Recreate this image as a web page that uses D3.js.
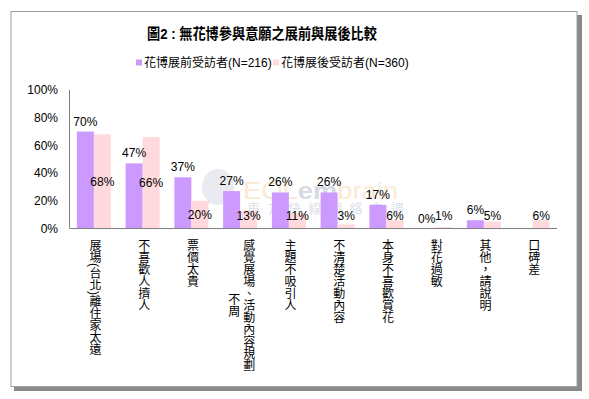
<!DOCTYPE html>
<html><head><meta charset="utf-8">
<script src="https://cdn.jsdelivr.net/npm/d3@7"></script>
<style>
body{margin:0;background:#fff;}
text{font-family:Arial,"Liberation Sans","Noto Sans CJK TC",sans-serif;}
</style></head>
<body><svg id="c" width="589" height="399"></svg>
<script>
const categories = ["展場(台北)離住家太遠","不喜歡人擠人","票價太貴","感覺展場、活動內容規劃|不周","主題不吸引人","不清楚活動內容","本身不喜歡賞花","對花過敏","其他，請說明","口碑差"];
const seriesNames = ["花博展前受訪者(N=216)","花博展後受訪者(N=360)"];
const before = [70,47,37,27,26,26,17,0,6,null];
const after  = [68,66,20,13,11,3,6,1,5,6];
const yTicks = [0,20,40,60,80,100];
const colors = ["#cc99ff","#ffd9dc"];

const svg = d3.select("#c");
// frame with shadow
svg.append("rect").attr("x",14).attr("y",15).attr("width",568).attr("height",376).attr("fill","#8a8a8a");
svg.append("rect").attr("x",11).attr("y",11.5).attr("width",566).attr("height",375).attr("fill","#fff").attr("stroke","#a0a0a0").attr("stroke-width",1);

const L=69.5, R=557, T=90, B=228.5;
const x = d3.scaleBand().domain(d3.range(categories.length)).range([L,R]);
const y = d3.scaleLinear().domain([0,100]).range([B,T]);
const bw = 17;
const cx = i => x(i)+x.bandwidth()/2;

// title
svg.append("text").attr("x",262).attr("y",39).attr("text-anchor","middle")
  .attr("font-size",15).attr("font-weight","bold").attr("textLength",230).attr("lengthAdjust","spacingAndGlyphs")
  .attr("font-family","'Noto Sans CJK TC',sans-serif")
  .text("圖2 : 無花博參與意願之展前與展後比較");

// legend
const lg = [{x:136},{x:273}];
lg.forEach((p,i)=>{
  svg.append("rect").attr("x",p.x).attr("y",59.5).attr("width",6).attr("height",6).attr("fill",colors[i]);
  svg.append("text").attr("x",p.x+8).attr("y",67).attr("font-size",12).attr("fill","#000").text(seriesNames[i]);
});

// watermark (behind bars)
const wm = svg.append("g").attr("opacity",0.55);
wm.append("ellipse").attr("cx",218).attr("cy",187).attr("rx",16).attr("ry",18).attr("fill","#d8dbe6");
wm.append("line").attr("x1",210).attr("y1",200).attr("x2",200).attr("y2",215).attr("stroke","#c8ccd8").attr("stroke-width",2);
wm.append("line").attr("x1",226).attr("y1",200).attr("x2",232).attr("y2",212).attr("stroke","#c8ccd8").attr("stroke-width",2);
const wt = wm.append("text").attr("x",243).attr("y",199).attr("font-size",24)
  .attr("textLength",155).attr("lengthAdjust","spacingAndGlyphs");
wt.append("tspan").attr("fill","#f6d9b0").text("EOL");
wt.append("tspan").attr("fill","#b8bdd0").attr("font-weight","bold").text("em");
wt.append("tspan").attr("fill","#f6d9b0").text("brain");
wm.append("text").attr("x",247).attr("y",213).attr("font-size",13).attr("fill","#c3c8d8")
  .attr("letter-spacing",7.5).attr("font-family","'Noto Sans CJK TC',sans-serif").text("東方快線網絡市調");

// y tick labels
svg.selectAll(".yt").data(yTicks).enter().append("text")
  .attr("x",58).attr("y",d=>y(d)).attr("dy","0.35em").attr("text-anchor","end")
  .attr("font-size",12).text(d=>d+"%");

// bars
const g = svg.append("g");
before.forEach((d,i)=>{
  if(d===null) return;
  g.append("rect").attr("x",cx(i)-bw).attr("y",y(d)).attr("width",bw).attr("height",B-y(d)).attr("fill",colors[0]);
});
after.forEach((d,i)=>{
  g.append("rect").attr("x",cx(i)).attr("y",y(d)).attr("width",bw).attr("height",B-y(d)).attr("fill",colors[1]);
});

// axis lines
svg.append("line").attr("x1",L).attr("x2",L).attr("y1",T).attr("y2",B).attr("stroke","#808080");
svg.append("line").attr("x1",L).attr("x2",R).attr("y1",B).attr("y2",B).attr("stroke","#808080");

// value labels
before.forEach((d,i)=>{
  if(d===null) return;
  svg.append("text").attr("x",cx(i)-bw/2).attr("y",y(d)-6).attr("text-anchor","middle")
    .attr("font-size",12).text(d+"%");
});
after.forEach((d,i)=>{
  const mid = (y(d)+B)/2;
  svg.append("text").attr("x",cx(i)+bw/2).attr("y",Math.min(mid,216)).attr("dy","0.35em").attr("text-anchor","middle")
    .attr("font-size",12).text(d+"%");
});

// category labels (vertical, wrapped into columns)
categories.forEach((c,i)=>{
  const cols = c.split("|");
  const maxLen = d3.max(cols, s=>Array.from(s).length);
  cols.forEach((s,j)=>{
    const off = cols.length===1?0:(j===0?7.5:-7.5);
    const yy = 239 + (maxLen-Array.from(s).length)*6;
    svg.append("text").attr("x",cx(i)+off).attr("y",yy)
      .style("writing-mode","vertical-rl").style("text-orientation","mixed")
      .attr("font-size",12).attr("font-family","'Noto Sans CJK TC',sans-serif").text(s);
  });
});
</script></body></html>
